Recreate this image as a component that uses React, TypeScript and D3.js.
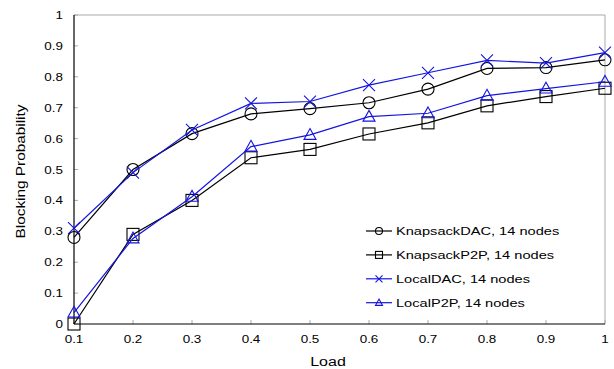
import React from "react";
import * as d3 from "d3";

const loads = [0.1, 0.2, 0.3, 0.4, 0.5, 0.6, 0.7, 0.8, 0.9, 1.0];
const knapsackDAC = [0.28, 0.5, 0.616, 0.68, 0.697, 0.716, 0.76, 0.827, 0.83, 0.855];
const knapsackP2P = [0.0, 0.29, 0.4, 0.538, 0.565, 0.615, 0.651, 0.706, 0.736, 0.763];
const localDAC = [0.31, 0.49, 0.628, 0.714, 0.72, 0.773, 0.813, 0.853, 0.844, 0.878];
const localP2P = [0.037, 0.277, 0.412, 0.574, 0.612, 0.671, 0.682, 0.739, 0.762, 0.784];
const seriesNames = [
  "KnapsackDAC, 14 nodes",
  "KnapsackP2P, 14 nodes",
  "LocalDAC, 14 nodes",
  "LocalP2P, 14 nodes",
];
const xTicks = [0.1, 0.2, 0.3, 0.4, 0.5, 0.6, 0.7, 0.8, 0.9, 1];
const yTicks = [0, 0.1, 0.2, 0.3, 0.4, 0.5, 0.6, 0.7, 0.8, 0.9, 1];

const W = 614;
const H = 369;
const left = 74;
const right = 605;
const top = 15;
const bottom = 324;
const BLUE = "#1414e0";
const FONT = "Liberation Sans, Arial, sans-serif";
const SX = 1.28;

type Kind = "circle" | "square" | "x" | "tri";

function Marker({ kind, x, y, s, color }: { kind: Kind; x: number; y: number; s: number; color: string }) {
  const h = s / 2;
  if (kind === "circle") return <circle cx={x} cy={y} r={h} fill="none" stroke={color} strokeWidth={1.1} />;
  if (kind === "square")
    return <rect x={x - h} y={y - h} width={s} height={s} fill="none" stroke={color} strokeWidth={1.1} />;
  if (kind === "x")
    return (
      <path
        d={`M${x - h},${y - h}L${x + h},${y + h}M${x - h},${y + h}L${x + h},${y - h}`}
        stroke={color}
        strokeWidth={1.1}
        fill="none"
      />
    );
  return (
    <path
      d={`M${x},${y - h * 1.05}L${x + h},${y + h * 0.75}L${x - h},${y + h * 0.75}Z`}
      stroke={color}
      strokeWidth={1.1}
      fill="none"
    />
  );
}

export default function App() {
  const x = d3.scaleLinear().domain([0.1, 1]).range([left, right]);
  const y = d3.scaleLinear().domain([0, 1]).range([bottom, top]);
  const line = d3
    .line<number>()
    .x((_, i) => x(loads[i]))
    .y((d) => y(d));

  const series: { data: number[]; color: string; kind: Kind }[] = [
    { data: knapsackDAC, color: "#000", kind: "circle" },
    { data: knapsackP2P, color: "#000", kind: "square" },
    { data: localDAC, color: BLUE, kind: "x" },
    { data: localP2P, color: BLUE, kind: "tri" },
  ];

  const legX0 = 366;
  const legX1 = 392;
  const legY0 = 231;
  const legDy = 23.9;

  return (
    <svg width={W} height={H} style={{ position: "absolute", left: 0, top: 0, background: "#fff" }}>
      <rect x={0} y={0} width={W} height={H} fill="#fff" />
      {/* frame */}
      <line x1={left} x2={right} y1={top} y2={top} stroke="#aaa" strokeWidth={1} />
      <line x1={right} x2={right} y1={top} y2={bottom} stroke="#aaa" strokeWidth={1} />
      {/* ticks */}
      {yTicks.map((t) => (
        <line key={"yt" + t} x1={left} x2={left + 4} y1={y(t)} y2={y(t)} stroke="#aaa" />
      ))}
      {xTicks.map((t) => (
        <line key={"xt" + t} x1={x(t)} x2={x(t)} y1={bottom} y2={bottom - 4} stroke="#aaa" />
      ))}
      <line x1={left} x2={left} y1={top} y2={bottom} stroke="#000" strokeWidth={1.2} />
      <line x1={left} x2={right} y1={bottom} y2={bottom} stroke="#000" strokeWidth={1.2} />
      {/* tick labels */}
      {yTicks.map((t) => (
        <text
          key={"yl" + t}
          transform={`translate(${63},${y(t) + 4}) scale(${SX},1)`}
          textAnchor="end"
          fontFamily={FONT}
          fontSize={10.5}
          fill="#000"
        >
          {String(t)}
        </text>
      ))}
      {xTicks.map((t) => (
        <text
          key={"xl" + t}
          transform={`translate(${x(t)},${343}) scale(${SX},1)`}
          textAnchor="middle"
          fontFamily={FONT}
          fontSize={10.5}
          fill="#000"
        >
          {String(t)}
        </text>
      ))}
      {/* axis titles */}
      <text
        transform={`translate(${328},${366}) scale(${SX},1)`}
        textAnchor="middle"
        fontFamily={FONT}
        fontSize={12.5}
        fill="#000"
      >
        Load
      </text>
      <text
        transform={`translate(${25},${171.5}) rotate(-90) scale(${SX},1)`}
        textAnchor="middle"
        fontFamily={FONT}
        fontSize={12}
        fill="#000"
      >
        Blocking Probability
      </text>
      {/* series */}
      {series.map((s, si) => (
        <g key={"s" + si}>
          <path d={line(s.data) || ""} fill="none" stroke={s.color} strokeWidth={1.2} />
          {s.data.map((v, i) => (
            <Marker key={i} kind={s.kind} x={x(loads[i])} y={y(v)} s={12} color={s.color} />
          ))}
        </g>
      ))}
      {/* legend */}
      {series.map((s, si) => {
        const ly = legY0 + si * legDy;
        return (
          <g key={"l" + si}>
            <line x1={legX0} x2={legX1} y1={ly} y2={ly} stroke={s.color} strokeWidth={1.2} />
            <Marker kind={s.kind} x={(legX0 + legX1) / 2} y={ly} s={7} color={s.color} />
            <text
              transform={`translate(${396},${ly + 4.3}) scale(1.26,1)`}
              fontFamily={FONT}
              fontSize={11.6}
              fill="#000"
            >
              {seriesNames[si]}
            </text>
          </g>
        );
      })}
    </svg>
  );
}
